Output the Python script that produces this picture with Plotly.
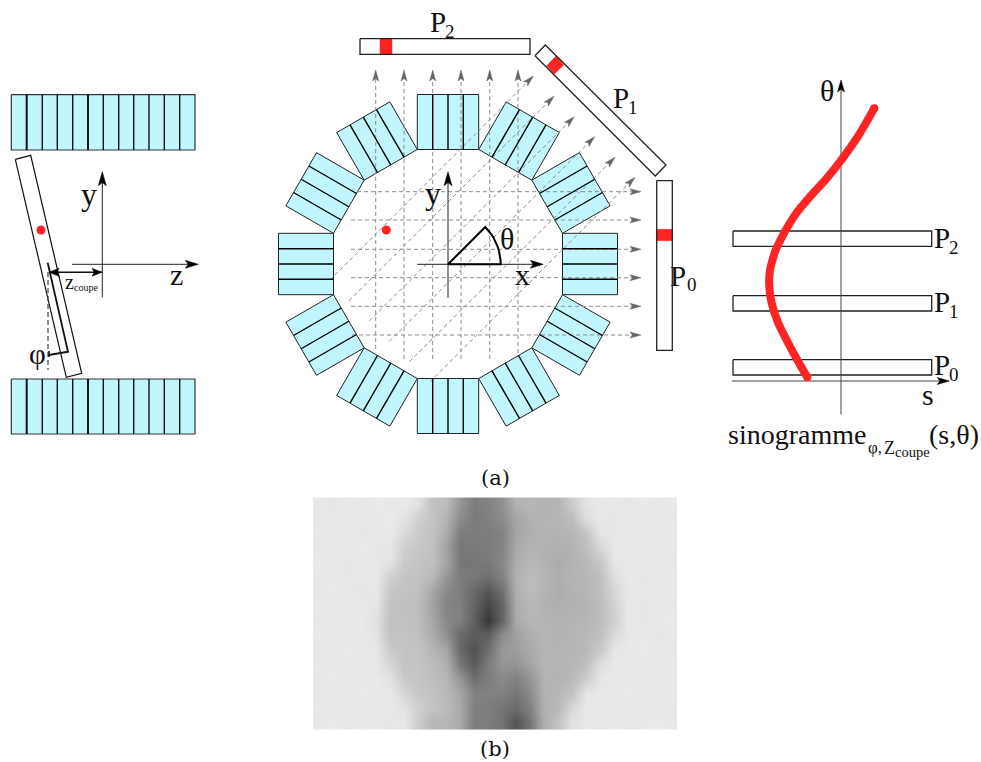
import math
import plotly.graph_objects as go

# ---------- data (page pixels) ----------
RING_CENTER = (448, 264)
BLOCK_ANGLES = [0, 30, 60, 90, 120, 150, 180, 210, 240, 270, 300, 330]
BLOCK_INNER = 114.5
BLOCK_OUTER = 169.5
BLOCK_HALF = 30.7
CRYSTAL_OFFSETS = [-15.3, 0, 15.3]

SIDE_BLOCK_X = [11.3, 195]
SIDE_BLOCK_Y_TOP = [94.7, 150]
SIDE_BLOCK_Y_BOTTOM = [379, 434]
SIDE_CRYSTAL_X = [26.7, 42.3, 57.3, 72.7, 88, 103.3, 118.7, 133.7, 149, 164.3, 179.7]
SIDE_CRYSTAL_W = [2.0, 1.4, 1.4, 1.4, 2.0, 1.4, 1.4, 1.4, 1.4, 1.4, 1.4]

TILT_X = [15.3, 30.7, 81.7, 66.3, 15.3]
TILT_Y = [159.3, 155.3, 373.3, 377.3, 159.3]
PHI_X = [47.7, 68, 49]
PHI_Y = [262.7, 351.7, 355]
PHI_TICK_X = [49, 49]
PHI_TICK_Y = [351, 357]
PHI_DASH_X = [48, 48]
PHI_DASH_Y = [272, 370]
ZC_X = [49, 102]
ZC_Y = [272.3, 272.3]

P2_X = [360, 530, 530, 360, 360]
P2_Y = [38.7, 38.7, 54.3, 54.3, 38.7]
P2_RED_X = [380, 392, 392, 380, 380]
P2_RED_Y = [38.7, 38.7, 54.3, 54.3, 38.7]
P1_X = [535, 545.3, 666, 655.3, 535]
P1_Y = [55.7, 45, 165, 176, 55.7]
P1_RED_X = [546.7, 556, 563.7, 554.3, 546.7]
P1_RED_Y = [65.7, 56, 65, 74, 65.7]
P0_X = [656.7, 672.3, 672.3, 656.7, 656.7]
P0_Y = [180.7, 180.7, 350.3, 350.3, 180.7]
P0_RED_X = [656.7, 672.3, 672.3, 656.7, 656.7]
P0_RED_Y = [229.3, 229.3, 240.7, 240.7, 229.3]

V_RAY_X = [375.7, 404, 432.7, 461, 489.7, 518]
V_RAY_BOTTOM = [349, 359, 359, 359, 359, 353]
V_RAY_TIP = 70
H_RAY_Y = [191.7, 220, 249.3, 277.7, 306.3, 335]
H_RAY_LEFT = [357, 351, 351, 351, 351, 352]
H_RAY_TIP = 641
D_RAY_START_X = [330, 349, 369.3, 389.3, 409.3, 430]
D_RAY_START_Y = [280, 300.7, 321, 341.3, 361.7, 381.7]
D_RAY_TIP_X = [533.3, 554, 574.3, 594.7, 615, 635]
D_RAY_TIP_Y = [76, 96.3, 116.7, 136.7, 157.3, 177.3]

ARC_DEG = [0, 5, 10, 15, 20, 25, 30, 35, 40, 45]
ARC_R = 52.7

SINO_BAR_X = [733, 931.7]
SINO_BAR_TOP = [231, 295.7, 359.7]
SINO_BAR_BOTTOM = [246.3, 311, 375]
CURVE_X = [874.3, 866.7, 856.7, 843.3, 826.7, 810, 795, 784, 775, 770, 769.3, 771.7, 778.3, 788.3, 798.3, 807.3]
CURVE_Y = [108.3, 121.7, 138.3, 157.3, 178.3, 196.7, 215, 233.3, 251.7, 270, 286.7, 303.3, 323.3, 343.3, 361.7, 377.3]

HEAT_X = [320, 334, 348, 362, 376, 390, 404, 418, 432, 446, 460, 474, 488, 502, 516, 530, 544, 558, 572, 586, 600, 614, 628, 642, 656, 670]
HEAT_Y = [504.7, 519, 533.7, 548, 562.7, 577, 591.7, 606, 620.7, 635, 649.7, 664, 678.7, 693, 707.7, 722]
HEAT_Z = [
    [232, 230, 233, 231, 234, 232, 233, 226, 194, 188, 150, 125, 130, 145, 178, 182, 178, 180, 205, 228, 232, 233, 230, 234, 231, 233],
    [230, 234, 231, 233, 232, 234, 228, 208, 196, 180, 142, 122, 128, 140, 165, 178, 180, 182, 188, 222, 232, 230, 234, 232, 233, 231],
    [233, 231, 234, 230, 232, 233, 218, 202, 194, 172, 125, 125, 125, 130, 165, 175, 180, 178, 182, 195, 228, 232, 231, 233, 230, 234],
    [231, 233, 232, 234, 231, 230, 207, 199, 194, 162, 120, 122, 125, 132, 168, 180, 178, 176, 178, 190, 215, 232, 233, 231, 234, 232],
    [234, 232, 231, 233, 232, 228, 202, 196, 192, 167, 118, 118, 122, 135, 172, 185, 178, 172, 178, 185, 198, 230, 232, 234, 232, 231],
    [232, 233, 231, 232, 233, 208, 196, 194, 186, 152, 125, 120, 112, 130, 178, 188, 182, 175, 180, 182, 192, 222, 233, 230, 233, 232],
    [231, 234, 232, 230, 232, 199, 194, 192, 168, 137, 125, 105, 85, 112, 175, 188, 180, 172, 178, 182, 190, 215, 231, 234, 231, 233],
    [233, 231, 233, 232, 229, 194, 192, 189, 163, 132, 128, 100, 70, 100, 172, 185, 178, 175, 178, 180, 188, 210, 232, 230, 233, 231],
    [232, 233, 231, 234, 224, 192, 194, 190, 168, 137, 128, 95, 55, 100, 170, 182, 180, 178, 180, 182, 188, 208, 233, 231, 232, 234],
    [234, 231, 232, 233, 227, 194, 196, 192, 173, 144, 105, 92, 95, 140, 160, 175, 182, 178, 182, 185, 192, 218, 231, 233, 230, 232],
    [231, 233, 234, 231, 232, 201, 194, 196, 181, 167, 105, 82, 110, 152, 158, 170, 182, 180, 182, 185, 200, 230, 232, 234, 233, 231],
    [233, 232, 231, 233, 231, 214, 196, 196, 188, 177, 120, 90, 125, 150, 148, 165, 182, 180, 182, 190, 222, 232, 231, 233, 231, 234],
    [232, 234, 232, 231, 234, 226, 201, 196, 191, 182, 150, 110, 125, 138, 130, 150, 180, 180, 185, 205, 230, 233, 232, 231, 234, 232],
    [231, 232, 233, 234, 231, 232, 214, 199, 194, 185, 165, 130, 130, 130, 118, 140, 178, 182, 195, 228, 231, 232, 234, 232, 231, 233],
    [233, 231, 232, 231, 233, 232, 227, 208, 196, 188, 170, 128, 125, 118, 108, 130, 178, 185, 215, 232, 233, 231, 232, 233, 232, 231],
    [232, 234, 231, 233, 232, 231, 232, 204, 184, 183, 170, 125, 125, 115, 85, 118, 175, 195, 225, 232, 231, 233, 231, 232, 234, 232],
]

# text, x, y, size, font key
LABELS = [
    ("y", 88.7, 194, 32, "s"), ("z", 176.7, 274, 30, "s"),
    ("z", 69, 282, 20, "s"), ("coupe", 86, 287, 10, "s"),
    ("φ", 37, 354, 29, "s"),
    ("P", 438, 22, 29, "s"), ("2", 450, 31, 19, "s"),
    ("P", 620.7, 98, 29, "s"), ("1", 632.7, 107, 19, "s"),
    ("P", 678, 276, 29, "s"), ("0", 691.7, 284, 19, "s"),
    ("y", 433, 193, 32, "s"), ("x", 522.7, 274, 30, "s"), ("θ", 506.7, 238, 30, "s"),
    ("θ", 826.7, 90, 30, "s"), ("s", 928, 394, 30, "s"),
    ("P", 941.7, 238, 29, "s"), ("2", 954, 247, 19, "s"),
    ("P", 941.7, 302, 29, "s"), ("1", 954, 311, 19, "s"),
    ("P", 941.7, 365, 29, "s"), ("0", 954, 374, 19, "s"),
    ("sinogramme", 797, 434, 28, "s"), ("φ,", 875, 447, 17, "s"), ("Z", 889, 448, 18, "s"),
    ("coupe", 912.5, 452, 14.5, "s"), ("(s,θ)", 954, 434, 28, "s"),
    ("(a)", 495, 478, 21, "d"), ("(b)", 495, 749, 21, "d"),
]
FONTS = {"s": "Liberation Serif", "d": "DejaVu Serif"}

CYAN = "#c2f6ff"
RED = "#ff2424"
DARK = "#111111"
GRAY = "#8c8c8c"

fig = go.Figure()


def poly(xs, ys, fill=None, color=DARK, width=1.0, dash=None):
    fig.add_trace(go.Scatter(
        x=xs, y=ys, mode="lines", hoverinfo="skip", showlegend=False,
        fill="toself" if fill else None, fillcolor=fill,
        line=dict(color=color, width=width, dash=dash)))


def arrow_head(tx, ty, dx, dy, length, half, color):
    n = math.hypot(dx, dy)
    ux, uy = dx / n, dy / n
    px, py = -uy, ux
    bx, by = tx - ux * length, ty - uy * length
    nx, ny = tx - ux * length * 0.78, ty - uy * length * 0.78
    fig.add_trace(go.Scatter(
        x=[tx, bx + px * half, nx, bx - px * half, tx],
        y=[ty, by + py * half, ny, by - py * half, ty],
        mode="lines", fill="toself", fillcolor=color, hoverinfo="skip", showlegend=False,
        line=dict(color=color, width=0.5)))


def ring_pt(a, u, v):
    r = math.radians(a)
    return (RING_CENTER[0] + u * math.cos(r) - v * math.sin(r),
            RING_CENTER[1] - u * math.sin(r) - v * math.cos(r))


# sinogram image
fig.add_trace(go.Heatmap(x=HEAT_X, y=HEAT_Y, z=HEAT_Z, zmin=0, zmax=255, zsmooth="best",
                         colorscale=[[0, "#000000"], [1, "#ffffff"]], showscale=False, hoverinfo="skip"))

# side view blocks
for ys in (SIDE_BLOCK_Y_TOP, SIDE_BLOCK_Y_BOTTOM):
    poly([SIDE_BLOCK_X[0], SIDE_BLOCK_X[1], SIDE_BLOCK_X[1], SIDE_BLOCK_X[0], SIDE_BLOCK_X[0]],
         [ys[0], ys[0], ys[1], ys[1], ys[0]], fill=CYAN, color="#333333", width=1.2)
    for cx, w in zip(SIDE_CRYSTAL_X, SIDE_CRYSTAL_W):
        poly([cx, cx], ys, width=w)

# side view slice and axes
poly(TILT_X, TILT_Y, width=1.2)
poly(PHI_DASH_X, PHI_DASH_Y, color="#444444", width=1.2, dash="5px,3px")
poly(PHI_X, PHI_Y, width=1.8)
poly(PHI_TICK_X, PHI_TICK_Y, width=1.5)
poly([102.3, 102.3], [297.3, 176], width=1.0, color="#222222")
arrow_head(102.3, 171.7, 0, -1, 14, 4, "#000000")
poly([72, 194], [264.3, 264.3], width=1.0, color="#222222")
arrow_head(198.3, 264.3, 1, 0, 13, 4, "#000000")
poly(ZC_X, ZC_Y, width=1.6)
arrow_head(ZC_X[0], ZC_Y[0], -1, 0, 10, 4, "#000000")
arrow_head(ZC_X[1], ZC_Y[1], 1, 0, 10, 4, "#000000")
fig.add_trace(go.Scatter(x=[41], y=[230], mode="markers", hoverinfo="skip", showlegend=False,
                         marker=dict(color=RED, size=9)))

# ring block fills
for a in BLOCK_ANGLES:
    pts = [ring_pt(a, BLOCK_INNER, -BLOCK_HALF), ring_pt(a, BLOCK_OUTER, -BLOCK_HALF),
           ring_pt(a, BLOCK_OUTER, BLOCK_HALF), ring_pt(a, BLOCK_INNER, BLOCK_HALF)]
    pts.append(pts[0])
    poly([p[0] for p in pts], [p[1] for p in pts], fill=CYAN, color="#222222", width=1.0)

# projection rays
for x, b in zip(V_RAY_X, V_RAY_BOTTOM):
    poly([x, x], [b, V_RAY_TIP + 4], color=GRAY, width=1.0, dash="4px,3px")
    arrow_head(x, V_RAY_TIP, 0, -1, 11, 3, "#666666")
for y, l in zip(H_RAY_Y, H_RAY_LEFT):
    poly([l, H_RAY_TIP - 4], [y, y], color=GRAY, width=1.0, dash="4px,3px")
    arrow_head(H_RAY_TIP, y, 1, 0, 11, 3, "#666666")
for sx, sy, tx, ty in zip(D_RAY_START_X, D_RAY_START_Y, D_RAY_TIP_X, D_RAY_TIP_Y):
    poly([sx, tx - 3], [sy, ty + 3], color=GRAY, width=1.0, dash="4px,3px")
    arrow_head(tx, ty, 1, -1, 11, 3, "#666666")

# ring crystal separators
for a in BLOCK_ANGLES:
    for v in CRYSTAL_OFFSETS:
        p, q = ring_pt(a, BLOCK_INNER, v), ring_pt(a, BLOCK_OUTER, v)
        poly([p[0], q[0]], [p[1], q[1]], color="#000000", width=1.4)

# projections
for xs, ys, rx, ry in ((P2_X, P2_Y, P2_RED_X, P2_RED_Y), (P1_X, P1_Y, P1_RED_X, P1_RED_Y), (P0_X, P0_Y, P0_RED_X, P0_RED_Y)):
    poly(rx, ry, fill=RED, color=RED, width=0.5)
    poly(xs, ys, color="#222222", width=1.3)

# ring axes and angle
poly([448, 448], [297.7, 176], color="#222222", width=1.0)
arrow_head(448, 171.7, 0, -1, 14, 4, "#000000")
poly([417.3, 539], [264.3, 264.3], color="#222222", width=1.0)
arrow_head(543.3, 264.3, 1, 0, 13, 4, "#000000")
arc_x = [RING_CENTER[0] + ARC_R * math.cos(math.radians(d)) for d in ARC_DEG]
arc_y = [RING_CENTER[1] + 0.3 - ARC_R * math.sin(math.radians(d)) for d in ARC_DEG]
poly([RING_CENTER[0]] + arc_x + [RING_CENTER[0]], [264.3] + arc_y + [264.3], color="#000000", width=2.0)
fig.add_trace(go.Scatter(x=[386.3], y=[230], mode="markers", hoverinfo="skip", showlegend=False,
                         marker=dict(color=RED, size=9)))

# sinogram sketch
for t, b in zip(SINO_BAR_TOP, SINO_BAR_BOTTOM):
    poly([SINO_BAR_X[0], SINO_BAR_X[1], SINO_BAR_X[1], SINO_BAR_X[0], SINO_BAR_X[0]], [t, t, b, b, t],
         color="#222222", width=1.3)
poly([841, 841], [414.3, 84], color="#444444", width=1.0)
arrow_head(841, 80, 0, -1, 12, 3.5, "#000000")
poly([732, 945], [381, 381], color="#444444", width=1.0)
arrow_head(949.3, 381, 1, 0, 12, 3.5, "#000000")
fig.add_trace(go.Scatter(x=CURVE_X, y=CURVE_Y, mode="lines", hoverinfo="skip", showlegend=False,
                         line=dict(color=RED, width=8, shape="spline", smoothing=0.5)))
fig.add_trace(go.Scatter(x=[CURVE_X[0], CURVE_X[-1]], y=[CURVE_Y[0], CURVE_Y[-1]], mode="markers",
                         hoverinfo="skip", showlegend=False, marker=dict(color=RED, size=8)))

annotations = [dict(text=t, x=x, y=y, xref="x", yref="y", showarrow=False, xanchor="center", yanchor="middle",
                    font=dict(family=FONTS[f], size=s, color="#111111")) for t, x, y, s, f in LABELS]

fig.update_layout(
    width=981, height=762, margin=dict(l=0, r=0, t=0, b=0),
    paper_bgcolor="#ffffff", plot_bgcolor="#ffffff", showlegend=False,
    xaxis=dict(range=[0, 981], visible=False, fixedrange=True),
    yaxis=dict(range=[762, 0], visible=False, fixedrange=True),
    annotations=annotations,
)
fig.write_html("out.html", config=dict(displayModeBar=False),
               post_script="document.body.style.margin='0';document.documentElement.style.overflow='hidden';")
